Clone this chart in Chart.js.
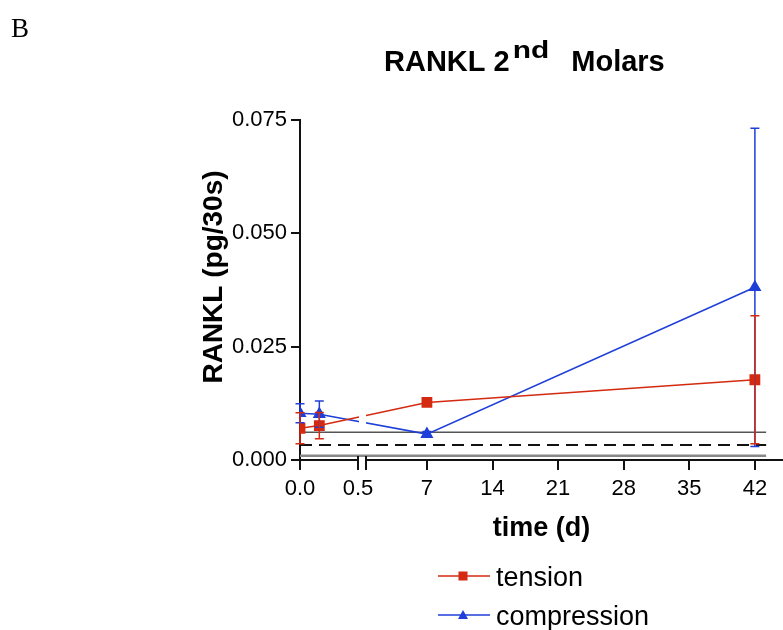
<!DOCTYPE html>
<html>
<head>
<meta charset="utf-8">
<script src="https://cdn.jsdelivr.net/npm/chart.js@4.4.1/dist/chart.umd.min.js"></script>
<style>
  html, body { margin: 0; padding: 0; background: #fff; }
  #wrap { width: 783px; height: 630px; position: relative; }
</style>
</head>
<body>
<div id="wrap"><canvas id="rankl"></canvas></div>
<script>
// time points in days (first two sit on the 0 - 0.5 d part of the broken axis)
const days = [0, 1 / 6, 7, 42];
const tension = [0.0070, 0.0076, 0.0127, 0.0177];
const tensionSD = [0.0034, 0.0029, 0.0004, 0.0141];
const compression = [0.0103, 0.0101, 0.0057, 0.0381];
const compressionSD = [0.0021, 0.0029, 0.0006, 0.0351];
const xTicks = [0, 0.5, 7, 14, 21, 28, 35, 42];
const yTicks = [0, 0.025, 0.05, 0.075];
// horizontal reference levels, drawn from day 0 to refEnd
const refLevels = [0.0061, 0.0033, 0.00095];
const refEnd = 43.2;

const RED = '#d42a10';
const BLUE = '#1f3fd8';
const SANS = "'Liberation Sans', Arial, sans-serif";

// broken axis: 0-0.5 d gets its own stretch, then a small gap, then 0.5-45 d
const SEG1 = 58, GAP = 8, PER_DAY = 9.371;
function toAxis(t) {
  return t <= 0.5 ? t * (SEG1 / 0.5) : SEG1 + GAP + (t - 0.5) * PER_DAY;
}
const pts = vals => vals.map((v, i) => ({ x: toAxis(days[i]), y: v }));

const refStyles = [
  { color: '#555', width: 1.5, dash: [] },
  { color: '#111', width: 2, dash: [12, 7] },
  { color: '#888', width: 2.5, dash: [] }
];

const refSets = refLevels.map((lvl, i) => ({
  label: 'ref' + i,
  data: [{ x: toAxis(0), y: lvl }, { x: toAxis(refEnd), y: lvl }],
  borderColor: refStyles[i].color,
  borderWidth: refStyles[i].width,
  borderDash: refStyles[i].dash,
  pointRadius: 0,
  order: 5
}));

const extras = {
  id: 'extras',
  afterDatasetsDraw(chart) {
    const { ctx, chartArea: a, scales: { x, y } } = chart;
    // gap in the data lines at the axis break
    ctx.save();
    ctx.fillStyle = '#fff';
    const gx = x.getPixelForValue(SEG1);
    ctx.fillRect(gx + 1, a.top, GAP - 1, y.getPixelForValue(0.0074) - a.top);
    // error bars, compression first so tension sits on top
    [[compression, compressionSD, BLUE], [tension, tensionSD, RED]].forEach(([vals, sd, col]) => {
      ctx.strokeStyle = col;
      ctx.lineWidth = 1.5;
      vals.forEach((v, i) => {
        const px = x.getPixelForValue(toAxis(days[i]));
        const top = y.getPixelForValue(v + sd[i]);
        const bot = y.getPixelForValue(Math.max(v - sd[i], 0));
        ctx.beginPath();
        ctx.moveTo(px, top); ctx.lineTo(px, bot);
        ctx.moveTo(px - 4.5, top); ctx.lineTo(px + 4.5, top);
        ctx.moveTo(px - 4.5, bot); ctx.lineTo(px + 4.5, bot);
        ctx.stroke();
      });
    });
    ctx.restore();
  },
  afterDraw(chart) {
    const { ctx, chartArea: a, scales: { x } } = chart;
    ctx.save();
    // x axis line with the break marks
    const b1 = x.getPixelForValue(SEG1), b2 = x.getPixelForValue(SEG1 + GAP);
    ctx.strokeStyle = '#111';
    ctx.lineWidth = 2;
    ctx.beginPath();
    ctx.moveTo(a.left, a.bottom); ctx.lineTo(b1, a.bottom);
    ctx.moveTo(b2, a.bottom); ctx.lineTo(a.right, a.bottom);
    ctx.moveTo(b1, a.bottom - 4); ctx.lineTo(b1, a.bottom + 10);
    ctx.moveTo(b2, a.bottom - 4); ctx.lineTo(b2, a.bottom + 10);
    ctx.stroke();

    ctx.fillStyle = '#000';
    // panel letter
    ctx.font = "27px 'Liberation Serif', 'Times New Roman', serif";
    ctx.textBaseline = 'alphabetic';
    ctx.textAlign = 'left';
    ctx.fillText('B', 11, 37);

    // title with superscript
    ctx.font = 'bold 29px ' + SANS;
    let tx = 384;
    ctx.fillText('RANKL 2', tx, 71);
    tx += ctx.measureText('RANKL 2').width + 3;
    ctx.save();
    ctx.translate(tx, 58);
    ctx.scale(1.3, 1);
    ctx.font = 'bold 23px ' + SANS;
    ctx.fillText('nd', 0, 0);
    tx += ctx.measureText('nd').width * 1.3;
    ctx.restore();
    ctx.font = 'bold 29px ' + SANS;
    ctx.fillText(' Molars', tx + 14, 71);

    // y axis title
    ctx.save();
    ctx.translate(214, 277);
    ctx.rotate(-Math.PI / 2);
    ctx.font = 'bold 28px ' + SANS;
    ctx.textAlign = 'center';
    ctx.textBaseline = 'middle';
    ctx.fillText('RANKL (pg/30s)', 0, 0);
    ctx.restore();

    // legend
    const rows = [
      { label: 'tension', col: RED, shape: 'rect', y: 576 },
      { label: 'compression', col: BLUE, shape: 'tri', y: 615 }
    ];
    rows.forEach(r => {
      ctx.strokeStyle = r.col;
      ctx.fillStyle = r.col;
      ctx.lineWidth = 1.5;
      ctx.beginPath();
      ctx.moveTo(438, r.y); ctx.lineTo(490, r.y);
      ctx.stroke();
      if (r.shape === 'rect') {
        ctx.fillRect(463 - 4.5, r.y - 4.5, 9, 9);
      } else {
        ctx.beginPath();
        ctx.moveTo(463, r.y - 5); ctx.lineTo(468, r.y + 4); ctx.lineTo(458, r.y + 4);
        ctx.closePath(); ctx.fill();
      }
      ctx.fillStyle = '#000';
      ctx.font = '27px ' + SANS;
      ctx.textAlign = 'left';
      ctx.textBaseline = 'alphabetic';
      ctx.fillText(r.label, 496, r.y + 10);
    });
    ctx.restore();
  }
};

new Chart(document.getElementById('rankl'), {
  type: 'line',
  data: {
    datasets: [
      {
        label: 'tension', data: pts(tension),
        borderColor: RED, backgroundColor: RED, borderWidth: 1.6,
        pointStyle: 'rect', pointRadius: 6.5, order: 0
      },
      {
        label: 'compression', data: pts(compression),
        borderColor: BLUE, backgroundColor: BLUE, borderWidth: 1.6,
        pointStyle: 'triangle', pointRadius: 6, order: 1
      },
      ...refSets
    ]
  },
  options: {
    responsive: true,
    maintainAspectRatio: false,
    animation: false,
    events: [],
    layout: { autoPadding: false, padding: { top: 120, left: 0, right: 0, bottom: 70 } },
    elements: { line: { tension: 0 } },
    plugins: { legend: { display: false }, title: { display: false }, tooltip: { enabled: false } },
    scales: {
      x: {
        type: 'linear',
        min: 0,
        max: toAxis(45),
        afterBuildTicks: s => { s.ticks = xTicks.map(t => ({ value: toAxis(t) })); },
        afterFit: s => { s.height = 100; s.paddingLeft = 0; s.paddingRight = 0; },
        ticks: {
          autoSkip: false, maxRotation: 0, padding: 6, color: '#000',
          font: { family: SANS, size: 22 },
          callback: (v, i) => (xTicks[i] < 1 ? xTicks[i].toFixed(1) : String(xTicks[i]))
        },
        grid: {
          drawOnChartArea: false, tickLength: 10, lineWidth: 2,
          tickColor: c => (c.index === 1 ? 'rgba(0,0,0,0)' : '#111')
        },
        border: { display: false },
        title: {
          display: true, text: 'time (d)', color: '#000',
          font: { family: SANS, size: 27, weight: 'bold' },
          padding: { top: 0, bottom: 15 }
        }
      },
      y: {
        min: 0,
        max: 0.075,
        afterBuildTicks: s => { s.ticks = yTicks.map(v => ({ value: v })); },
        afterFit: s => { s.width = 300; },
        ticks: {
          padding: 4, color: '#000',
          font: { family: SANS, size: 22 },
          callback: v => v.toFixed(3)
        },
        grid: { drawOnChartArea: false, tickLength: 9, lineWidth: 2, tickColor: '#111' },
        border: { display: true, color: '#111', width: 2 }
      }
    }
  },
  plugins: [extras]
});
</script>
</body>
</html>
